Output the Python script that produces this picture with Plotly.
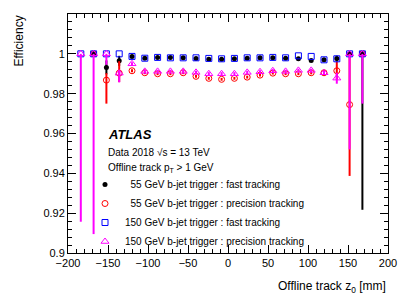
import plotly.graph_objects as go

# ---- data ----
z0 = [-184, -168, -152, -136, -120, -104, -88, -72, -56, -40, -24, -8,
      8, 24, 40, 56, 72, 88, 104, 120, 136, 152, 168]

fast55 = [None, 1.0, 0.9932, 0.9965, 0.9987, 0.9978, 0.9982, 0.9982, 0.998, 0.9977, 0.9973, 0.9973,
          0.9975, 0.9978, 0.998, 0.998, 0.9978, 0.9975, 0.9967, 0.997, 0.9976, 1.0, 1.0]
fast55_up = [0, 0, 0.0035, 0.0025, 0.0008, 0.0006, 0.0005, 0.0005, 0.0005, 0.0005, 0.0005, 0.0005,
             0.0005, 0.0005, 0.0005, 0.0005, 0.0005, 0.0006, 0.0007, 0.0008, 0.0015, 0, 0]
fast55_dn = [0, 0, 0.0035, 0.0025, 0.0008, 0.0006, 0.0005, 0.0005, 0.0005, 0.0005, 0.0005, 0.0005,
             0.0005, 0.0005, 0.0005, 0.0005, 0.0005, 0.0006, 0.0007, 0.0008, 0.0015, 0, 0.0783]

prec55 = [None, 1.0, 0.9868, 0.9903, 0.9915, 0.9905, 0.990, 0.990, 0.9905, 0.9887, 0.9877, 0.9872,
          0.9877, 0.9883, 0.9893, 0.9903, 0.990, 0.990, 0.9905, 0.9905, 0.9915, 0.9745, 1.0]
prec55_up = [0, 0, 0.0035, 0.006, 0.0008, 0.0007, 0.0007, 0.0007, 0.0007, 0.0007, 0.0007, 0.0007,
             0.0007, 0.0007, 0.0007, 0.0007, 0.0007, 0.0007, 0.0008, 0.0012, 0.0045, 0.0255, 0]
prec55_dn = [0, 0, 0.0118, 0.0045, 0.0008, 0.0007, 0.0007, 0.0007, 0.0007, 0.0007, 0.0007, 0.0007,
             0.0007, 0.0007, 0.0007, 0.0007, 0.0007, 0.0007, 0.0008, 0.0012, 0.0045, 0.0358, 0]

fast150 = [1.0, 1.0, 1.0, 1.0, 0.9987, 0.9978, 0.9982, 0.998, 0.998, 0.998, 0.9977, 0.9975,
           0.9977, 0.998, 0.998, 0.9982, 0.998, 0.999, 0.9987, 0.997, 0.9975, 1.0, 1.0]

prec150 = [1.0, 1.0, 1.0, 0.9903, 0.995, 0.9912, 0.9912, 0.9912, 0.9912, 0.9907, 0.990, 0.990,
           0.990, 0.9907, 0.991, 0.9915, 0.9912, 0.9917, 0.9917, 0.9905, 0.9878, 1.0, 1.0]
prec150_up = [0, 0, 0, 0.0015, 0.0008, 0.0008, 0.0008, 0.0008, 0.0008, 0.0008, 0.0008, 0.0008,
              0.0008, 0.0008, 0.0008, 0.0008, 0.0008, 0.0008, 0.0008, 0.001, 0.0027, 0, 0]
prec150_dn = [0.0843, 0.0905, 0.0055, 0.0046, 0.0008, 0.0008, 0.0008, 0.0008, 0.0008, 0.0008, 0.0008, 0.0008,
              0.0008, 0.0008, 0.0008, 0.0008, 0.0008, 0.0008, 0.0008, 0.001, 0.0028, 0.048, 0.025]

y_ticks = [0.9, 0.92, 0.94, 0.96, 0.98, 1.0, 1.02]
y_ticklabels = ["0.9", "0.92", "0.94", "0.96", "0.98", "1", "1.02"]
x_ticks = [-200, -150, -100, -50, 0, 50, 100, 150, 200]

names = ["\u200755 GeV b-jet trigger : fast tracking",
         "\u200755 GeV b-jet trigger : precision tracking",
         "150 GeV b-jet trigger : fast tracking",
         "150 GeV b-jet trigger : precision tracking"]

FONT = "Liberation Sans, Arial, Helvetica, sans-serif"

fig = go.Figure()

fig.add_trace(go.Scatter(
    x=z0, y=fast55, mode="markers", name=names[0],
    marker=dict(symbol="circle", size=5, color="black"),
    error_y=dict(type="data", symmetric=False, array=fast55_up, arrayminus=fast55_dn,
                 color="black", thickness=2, width=0)))
fig.add_trace(go.Scatter(
    x=z0, y=prec55, mode="markers", name=names[1],
    marker=dict(symbol="circle-open", size=6, color="#ff0000", line=dict(width=1)),
    error_y=dict(type="data", symmetric=False, array=prec55_up, arrayminus=prec55_dn,
                 color="#ff0000", thickness=2, width=0)))
fig.add_trace(go.Scatter(
    x=z0, y=fast150, mode="markers", name=names[2],
    marker=dict(symbol="square-open", size=6, color="#0000ff", line=dict(width=1)),
    error_y=dict(type="data", array=[0] * len(z0), color="#0000ff", thickness=2, width=0)))
fig.add_trace(go.Scatter(
    x=z0, y=prec150, mode="markers", name=names[3],
    marker=dict(symbol="triangle-up-open", size=7, color="#ff00ff", line=dict(width=1)),
    error_y=dict(type="data", symmetric=False, array=prec150_up, arrayminus=prec150_dn,
                 color="#ff00ff", thickness=2, width=0)))

axis_common = dict(
    showgrid=False, zeroline=False, showline=True, linecolor="black", linewidth=1,
    mirror="ticks", ticks="inside", ticklen=8, tickwidth=1, tickcolor="black",
    tickfont=dict(family=FONT, size=11, color="black"),
    minor=dict(ticks="inside", ticklen=4, tickwidth=1, tickcolor="black"),
)

fig.update_xaxes(range=[-200, 200], tickvals=x_ticks, minor_dtick=10,
                 title=None, **axis_common)
fig.update_yaxes(range=[0.9, 1.02], tickvals=y_ticks, ticktext=y_ticklabels, minor_dtick=0.004,
                 title=None, **axis_common)

# page pixel -> paper coordinates (plot area spans x 68..388, y 14..253 on the page)
def px2x(px):
    return (px - 68) / 320.0

def px2y(py):
    return (253 - py) / 239.0

annotations = [
    dict(text="<b><i>ATLAS</i></b>", x=px2x(106), y=px2y(135), xanchor="left", yanchor="middle",
         font=dict(family=FONT, size=13, color="black")),
    dict(text="Data 2018 \u221As = 13 TeV", x=px2x(106), y=px2y(152), xanchor="left", yanchor="middle",
         font=dict(family=FONT, size=10, color="black")),
    dict(text="Offline track p<sub>T</sub> > 1 GeV", x=px2x(106), y=px2y(168), xanchor="left", yanchor="middle",
         font=dict(family=FONT, size=10, color="black")),
    dict(text="Offline track z<sub>0</sub> [mm]", x=1.0, y=px2y(287), xanchor="right", yanchor="middle",
         font=dict(family=FONT, size=12, color="black")),
    dict(text="Efficiency", x=px2x(9), y=px2y(14), xanchor="left", yanchor="top",
         textangle=-90, font=dict(family=FONT, size=12, color="black")),
]
for a in annotations:
    a.update(xref="paper", yref="paper", showarrow=False)

# the page body has an 8px margin, so the figure is 8px smaller than the window
fig.update_layout(
    width=407, height=290,
    margin=dict(l=60, r=27, t=6, b=45),
    paper_bgcolor="white", plot_bgcolor="white",
    font=dict(family=FONT, size=10, color="black"),
    annotations=annotations,
    showlegend=True,
    legend=dict(x=px2x(85), y=px2y(170), xanchor="left", yanchor="top",
                bgcolor="rgba(0,0,0,0)", borderwidth=0, itemwidth=30,
                font=dict(family=FONT, size=10, color="black"), tracegroupgap=0),
)

fig.write_html("out.html")
